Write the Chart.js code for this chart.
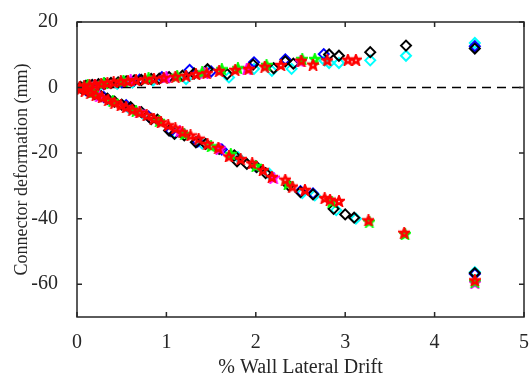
<!DOCTYPE html>
<html>
<head>
<meta charset="utf-8">
<script src="https://cdn.jsdelivr.net/npm/chart.js@4.4.1/dist/chart.umd.min.js"></script>
<style>
  body { margin: 0; background: #fff; }
</style>
</head>
<body>
<canvas id="chart" width="531" height="375"></canvas>
<script>
// drift (%) / connector deformation (mm)
const blackDrift = [0.04, 0.1, 0.17, 0.24, 0.31, 0.38, 0.46, 0.55, 0.64, 0.72, 0.83, 0.92, 1.03, 1.18, 1.31, 1.46, 1.68, 1.97, 2.2, 2.33, 2.42, 2.82, 2.93, 3.28, 3.68, 4.45,
  0.06, 0.13, 0.2, 0.27, 0.34, 0.42, 0.5, 0.6, 0.72, 0.83, 0.9, 1.03, 1.09, 1.2, 1.33, 1.44, 1.59, 1.76, 1.79, 1.9, 2.01, 2.11, 2.37, 2.5, 2.64, 2.87, 3.0, 3.1, 4.45];
const blackDeform = [0.2, 0.5, 0.8, 1.0, 1.2, 1.4, 1.6, 1.9, 2.2, 2.3, 2.6, 2.7, 3.2, 3.6, 4.3, 5.6, 4.1, 7.0, 5.9, 8.0, 7.3, 10.1, 9.7, 10.8, 12.8, 11.9,
  -0.5, -1.2, -2.0, -2.6, -3.4, -4.3, -5.2, -6.0, -7.5, -9.6, -9.8, -13.1, -14.1, -14.6, -16.7, -17.2, -18.7, -20.7, -22.5, -23.3, -24.3, -26.1, -29.9, -31.9, -32.6, -37.0, -38.7, -39.7, -56.6];

const blueDrift = [0.1, 0.3, 0.5, 0.7, 0.95, 1.26, 1.5, 1.98, 2.33, 2.76, 4.45,
  0.1, 0.3, 0.55, 0.8, 1.05, 1.35, 1.62, 2.0, 2.5, 2.64, 4.45];
const blueDeform = [0.5, 1.0, 1.6, 2.4, 3.2, 5.4, 4.9, 7.7, 8.6, 10.2, 12.6,
  -0.8, -2.9, -5.4, -8.8, -13.3, -16.5, -18.9, -24.0, -31.6, -32.3, -56.9];

const cyanDrift = [0.08, 0.25, 0.45, 0.62, 0.85, 1.22, 1.46, 1.7, 1.98, 2.18, 2.4, 2.77, 2.82, 2.93, 3.28, 3.68, 4.45,
  0.12, 0.35, 0.58, 0.75, 1.1, 1.4, 1.8, 2.15, 2.52, 2.66, 2.9, 3.12, 4.45];
const cyanDeform = [0.3, 0.7, 1.1, 1.5, 2.1, 2.6, 5.3, 3.1, 5.7, 5.1, 5.7, 8.2, 7.5, 7.5, 8.3, 9.7, 13.6,
  -1.2, -3.7, -6.3, -8.3, -13.9, -17.1, -21.2, -26.3, -32.2, -32.9, -37.4, -40.0, -56.3];

const redDrift = [0.03, 0.08, 0.14, 0.2, 0.27, 0.34, 0.41, 0.49, 0.57, 0.66, 0.76, 0.86, 0.97, 1.1, 1.22, 1.33, 1.45, 1.59, 1.77, 1.92, 2.1, 2.28, 2.51, 2.64, 2.8, 3.03, 3.12,
  0.04, 0.09, 0.15, 0.21, 0.28, 0.35, 0.42, 0.49, 0.55, 0.62, 0.7, 0.78, 0.86, 0.94, 1.02, 1.1, 1.18, 1.27, 1.36, 1.46, 1.58, 1.7, 1.83, 1.96, 2.08, 2.18, 2.33, 2.41, 2.55, 2.77, 2.83, 2.93, 3.26, 3.66, 4.45];
const redDeform = [0.1, 0.4, 0.7, 0.9, 1.2, 1.4, 1.6, 1.9, 2.0, 2.3, 2.5, 2.7, 3.0, 3.3, 3.6, 4.1, 4.4, 5.1, 5.4, 5.7, 6.4, 6.9, 8.2, 7.0, 8.3, 8.5, 8.5,
  -0.4, -0.9, -1.6, -2.3, -3.0, -3.8, -4.6, -5.4, -6.0, -6.8, -7.6, -8.5, -9.5, -10.6, -11.5, -12.4, -13.6, -14.6, -15.6, -17.2, -18.4, -21.0, -21.8, -23.1, -25.2, -27.3, -28.1, -30.2, -31.2, -33.7, -34.2, -34.6, -40.5, -44.3, -58.8];

const greenDrift = [0.12, 0.3, 0.52, 0.8, 1.12, 1.4, 1.62, 1.8, 2.12, 2.52, 2.66,
  0.18, 0.4, 0.66, 0.92, 1.2, 1.5, 1.72, 2.0, 2.36, 2.85, 3.27, 3.67, 4.45];
const greenDeform = [0.8, 1.4, 2.1, 2.9, 3.6, 4.6, 5.6, 5.9, 6.9, 8.7, 8.7,
  -1.5, -4.1, -7.1, -10.2, -14.2, -17.9, -20.3, -23.9, -29.3, -34.8, -40.9, -44.7, -59.2];

const magentaDrift = [0.2, 0.6, 1.0, 1.42, 1.9, 2.5,
  0.25, 0.7, 1.15, 1.6, 2.2, 4.45];
const magentaDeform = [0.9, 2.2, 3.1, 4.5, 5.8, 8.0,
  -2.6, -7.4, -13.3, -18.6, -27.5, -59.6];

const xTicks = [0, 1, 2, 3, 4, 5];
const yTicks = [-60, -40, -20, 0, 20];

const toPoints = (xs, ys) => xs.map((x, i) => ({ x: x, y: ys[i] }));

function pentagram(color) {
  const c = document.createElement('canvas');
  c.width = 12;
  c.height = 12;
  const g = c.getContext('2d');
  g.strokeStyle = color;
  g.lineWidth = 2.4;
  g.beginPath();
  for (let i = 0; i < 10; i++) {
    const r = i % 2 ? 2.0 : 4.8;
    const a = -Math.PI / 2 + i * Math.PI / 5;
    g.lineTo(6 + r * Math.cos(a), 6.4 + r * Math.sin(a));
  }
  g.closePath();
  g.stroke();
  return c;
}

function diamonds(label, xs, ys, color) {
  return {
    label: label,
    data: toPoints(xs, ys),
    pointStyle: 'rectRot',
    pointRadius: 5,
    pointBorderWidth: 2,
    borderColor: color,
    backgroundColor: 'rgba(0,0,0,0)',
    showLine: false,
  };
}

function stars(label, xs, ys, color) {
  return {
    label: label,
    data: toPoints(xs, ys),
    pointStyle: pentagram(color),
    pointRadius: 6,
    borderColor: color,
    backgroundColor: color,
    showLine: false,
  };
}

// MATLAB style box with inward ticks
const boxPlugin = {
  id: 'box',
  afterDraw(chart) {
    const { ctx, chartArea: a, scales } = chart;
    ctx.save();
    ctx.strokeStyle = '#262626';
    ctx.lineWidth = 1.5;
    ctx.strokeRect(a.left, a.top, a.right - a.left, a.bottom - a.top);
    ctx.beginPath();
    scales.x.ticks.forEach(t => {
      const px = scales.x.getPixelForValue(t.value);
      ctx.moveTo(px, a.bottom);
      ctx.lineTo(px, a.bottom - 5);
      ctx.moveTo(px, a.top);
      ctx.lineTo(px, a.top + 5);
    });
    scales.y.ticks.forEach(t => {
      const py = scales.y.getPixelForValue(t.value);
      ctx.moveTo(a.left, py);
      ctx.lineTo(a.left + 5, py);
      ctx.moveTo(a.right, py);
      ctx.lineTo(a.right - 5, py);
    });
    ctx.stroke();
    ctx.restore();
  }
};

const family = "'Liberation Serif', 'Times New Roman', serif";

new Chart(
  document.getElementById('chart'),
  {
    type: 'scatter',
    data: {
      datasets: [
        stars('Red', redDrift, redDeform, '#ff0000'),
        stars('Green', greenDrift, greenDeform, '#00ff00'),
        stars('Magenta', magentaDrift, magentaDeform, '#ff00ff'),
        diamonds('Black', blackDrift, blackDeform, '#000000'),
        diamonds('Blue', blueDrift, blueDeform, '#0000ff'),
        diamonds('Cyan', cyanDrift, cyanDeform, '#00ffff'),
        {
          type: 'line',
          label: 'zero',
          data: [{ x: 0, y: 0 }, { x: 5, y: 0 }],
          borderColor: '#000',
          borderWidth: 1.5,
          borderDash: [9, 6],
          pointRadius: 0,
          order: 10,
        },
      ]
    },
    options: {
      responsive: false,
      animation: false,
      layout: {
        padding: { left: 0, right: 5, top: 22, bottom: 0 }
      },
      plugins: {
        legend: { display: false },
        tooltip: { enabled: false },
      },
      scales: {
        x: {
          type: 'linear',
          min: 0,
          max: 5,
          afterBuildTicks: (scale) => {
            scale.ticks = xTicks.map(v => ({ value: v }));
          },
          afterFit: (scale) => {
            scale.height = 58;
            scale.paddingLeft = 0;
            scale.paddingRight = 0;
          },
          grid: { display: false },
          border: { display: false },
          ticks: {
            color: '#262626',
            font: { family: family, size: 20 },
            padding: 6,
            maxRotation: 0,
          },
          title: {
            display: true,
            text: '% Wall Lateral Drift',
            color: '#262626',
            font: { family: family, size: 20, lineHeight: 1 },
            padding: { top: 0, bottom: -3 },
          },
        },
        y: {
          type: 'linear',
          min: -70,
          max: 20,
          afterBuildTicks: (scale) => {
            scale.ticks = yTicks.map(v => ({ value: v }));
          },
          afterFit: (scale) => {
            scale.width = 77;
            scale.paddingTop = 0;
            scale.paddingBottom = 0;
          },
          grid: { display: false },
          border: { display: false },
          ticks: {
            color: '#262626',
            font: { family: family, size: 20 },
            padding: 11,
          },
          title: {
            display: true,
            text: 'Connector deformation (mm)',
            color: '#262626',
            font: { family: family, size: 18 },
            padding: { top: 11, bottom: 0 },
          },
        }
      }
    },
    plugins: [boxPlugin]
  }
);
</script>
</body>
</html>
